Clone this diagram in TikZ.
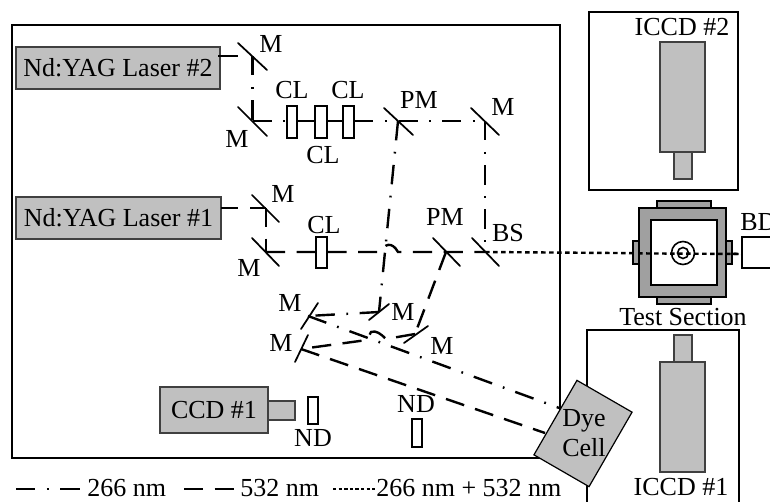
\documentclass[tikz,border=0pt]{standalone}
\usepackage{fontspec}
\setmainfont{Liberation Serif}
\usetikzlibrary{calc}
\definecolor{boxgray}{HTML}{C0C0C0}
\definecolor{cellgray}{HTML}{A0A0A0}
\tikzset{
  frame/.style={draw=black,line width=1.5pt},
  txt/.style={inner sep=0pt,font=\fontsize{19.5pt}{21pt}\selectfont,text height=12.9pt,text depth=0pt},
  graybox/.style 2 args={draw=black!75,line width=0.9pt,fill=boxgray,inner sep=0pt,
     minimum width=#1*0.75pt,minimum height=#2*0.75pt,font=\fontsize{19.5pt}{21pt}\selectfont},
  lens/.style 2 args={draw=black,line width=1.3pt,fill=white,inner sep=0pt,
     minimum width=#1*0.75pt,minimum height=#2*0.75pt},
  mirror/.style={line width=1.3pt,line cap=round},
  beamd/.style={line width=1.8pt,dash pattern=on 14.4pt off 8.6pt},
  beamdd/.style={line width=1.8pt,dash pattern=on 14.6pt off 8.6pt on 1.3pt off 8.6pt},
  beamdot/.style={line width=1.8pt,dash pattern=on 3.4pt off 2.6pt},
  tsbox/.style={draw=black,line width=1.2pt,inner sep=0pt},
}
\begin{document}
\begin{tikzpicture}[x=0.75pt,y=-0.75pt]
\useasboundingbox (0,0) rectangle (770,502);
% frames
\node[frame,fill=none,inner sep=0pt,minimum width=548*0.75pt,minimum height=433*0.75pt] (mainframe) at (286,241.5) {};
\node[frame,inner sep=0pt,minimum width=149*0.75pt,minimum height=178*0.75pt] (frametwo) at (663.5,101) {};
\node[frame,inner sep=0pt,minimum width=152*0.75pt,minimum height=190*0.75pt] (frameone) at (663,425) {};
% key points
\coordinate (mA) at (252.5,56);
\coordinate (mB) at (252.5,121);
\coordinate (pmA) at (398,121);
\coordinate (mC) at (485,121);
\coordinate (mD) at (266,208);
\coordinate (mE) at (266,252);
\coordinate (pmB) at (446,252);
\coordinate (bs) at (485,252);
\coordinate (mF) at (379,312);
\coordinate (mG) at (308,316);
\coordinate (mH) at (415,334);
\coordinate (mI) at (301,349);
\coordinate (cellA) at (562,409);
\coordinate (cellB) at (545,433);
\coordinate (bdin) at (745,254);
\coordinate (lasB) at (218,56);
\coordinate (lasBe) at (238,56);
\coordinate (lasA) at (221,208);
% laser boxes
\node[graybox={204}{42}] (laser2) at (118,68) {Nd:YAG Laser \#2};
\node[graybox={205}{42}] (laser1) at (118.5,218) {Nd:YAG Laser \#1};
% beams
\draw[line width=1.8pt] (lasB) -- (lasBe);
\draw[beamdd] (mA) -- (mB);
\draw[line width=1.8pt,dash pattern=on 14.3pt off 8.6pt on 1.3pt off 9pt on 14.3pt off 8.6pt on 12pt off 8.3pt on 14.3pt off 8.6pt on 1.3pt off 9pt on 14.3pt off 8.6pt on 1.3pt off 8.6pt on 14.3pt off 8.6pt on 1.3pt off 8.3pt]
   (mB) -- (pmA) -- (mC);
\draw[beamdd] (mC) -- (bs);
\draw[beamdd] (pmA) -- (mF);
\draw[beamdd] (mF) -- (mG);
\draw[beamdd] (mG) -- (cellA);
\draw[line width=1.8pt,dash pattern=on 13pt off 9pt] (lasA) -- (mD);
\draw[beamd] (mD) -- (mE);
\draw[beamd] (mE) -- (381,252) .. controls (384,244) and (392,241) .. (398,252) -- (pmB) -- (bs);
\draw[beamd] (pmB) -- (mH);
\draw[beamd] (mH) -- (386,339) .. controls (381,334) and (376,330) .. (371,332) -- (367,340) -- (mI);
\draw[beamd] (mI) -- (cellB);
\draw[beamdot] (bs) -- (bdin);
% mirrors
\draw[mirror] (238,43) -- (267,70);
\draw[mirror] (238,107) -- (267,136);
\draw[mirror] (384,108) -- (413,135);
\draw[mirror] (471,108) -- (499,135);
\draw[mirror] (252,195) -- (279,222);
\draw[mirror] (252,238) -- (279,266);
\draw[mirror] (433,238) -- (460,266);
\draw[mirror] (472,238) -- (499,266);
\draw[mirror] (369,320) -- (389,304);
\draw[mirror] (301,329) -- (318,303);
\draw[mirror] (295,362) -- (308,335);
\draw[mirror] (404,343) -- (428,326);
% lenses
\node[lens={10}{32}] (cl1) at (292,122) {};
\node[lens={12}{32}] (cl2) at (321,122) {};
\node[lens={11}{32}] (cl3) at (348.5,122) {};
\node[lens={11}{31}] (cl4) at (321.5,252.5) {};
\node[lens={10}{27}] (nd1) at (313,410.5) {};
\node[lens={10}{28}] (nd2) at (417,433) {};
% CCD
\node[graybox={27}{19}] (ccdlens) at (281.5,410.5) {};
\node[graybox={108}{46}] (ccd) at (214,410) {CCD \#1};
% ICCD 2
\node[graybox={18}{27}] (iccdtwol) at (683,165.5) {};
\node[graybox={45}{110}] (iccdtwo) at (682.5,97) {};
% ICCD 1
\node[graybox={18}{27}] (iccdonel) at (683,348.5) {};
\node[graybox={45}{110}] (iccdone) at (682.5,417) {};
% test section
\node[tsbox,fill=cellgray,minimum width=54*0.75pt,minimum height=7*0.75pt] (tabt) at (684,204.5) {};
\node[tsbox,fill=cellgray,minimum width=54*0.75pt,minimum height=7*0.75pt] (tabb) at (684,300.5) {};
\node[tsbox,fill=cellgray,minimum width=6*0.75pt,minimum height=23*0.75pt] (tabl) at (636,252.5) {};
\node[tsbox,fill=cellgray,minimum width=6*0.75pt,minimum height=23*0.75pt] (tabr) at (729,252.5) {};
\node[tsbox,fill=cellgray,minimum width=87*0.75pt,minimum height=89*0.75pt] (outer) at (682.5,252.5) {};
\node[tsbox,fill=white,minimum width=66*0.75pt,minimum height=65*0.75pt] (inner) at (684,252.5) {};
\node[circle,tsbox,minimum size=23*0.75pt] (ringA) at (683,253) {};
\node[circle,tsbox,minimum size=11*0.75pt] (ringB) at (683,253) {};
\draw[beamdot] (638,253.4) -- (bdin);
% BD
\node[tsbox,fill=white,minimum width=40*0.75pt,minimum height=31*0.75pt] (bd) at (762,252.5) {};
% dye cell
\node[draw=black,line width=0.9pt,fill=boxgray,inner sep=0pt,minimum width=63.6*0.75pt,minimum height=86*0.75pt,rotate=-30] (dye) at (583,433.5) {};
% labels
\node[txt] (t1) at (271,44) {M};
\node[txt] (t2) at (237,139) {M};
\node[txt] (t3) at (292,90) {CL};
\node[txt] (t4) at (348,90) {CL};
\node[txt] (t5) at (323,155) {CL};
\node[txt] (t6) at (419,100) {PM};
\node[txt] (t7) at (503,107) {M};
\node[txt] (t8) at (283,194) {M};
\node[txt] (t9) at (249,268) {M};
\node[txt] (t10) at (324,225) {CL};
\node[txt] (t11) at (445,217) {PM};
\node[txt] (t12) at (508,233) {BS};
\node[txt] (t13) at (290,303) {M};
\node[txt] (t14) at (403,312) {M};
\node[txt] (t15) at (281,343) {M};
\node[txt] (t16) at (442,346) {M};
\node[txt] (t17) at (313,438) {ND};
\node[txt] (t18) at (416,404) {ND};
\node[txt] (t19) at (683,317) {Test Section};
\node[txt,anchor=west] (t20) at (740,222) {BD};
\node[txt] (t21) at (682,27) {ICCD \#2};
\node[txt] (t22) at (681,487) {ICCD \#1};
\node[txt] (t23) at (584,418) {Dye};
\node[txt] (t24) at (584,448) {Cell};
% legend
\coordinate (lgaA) at (16,489);
\coordinate (lgaB) at (80,489);
\coordinate (lgbA) at (184,489);
\coordinate (lgbB) at (235,489);
\coordinate (lgcA) at (333,489);
\coordinate (lgcB) at (375,489);
\draw[beamdd] (lgaA) -- (lgaB);
\draw[beamd] (lgbA) -- (lgbB);
\draw[line width=1.2pt,dash pattern=on 2.6pt off 1.6pt] (lgcA) -- (lgcB);
\node[txt,anchor=west] (t25) at (87,488) {266 nm};
\node[txt,anchor=west] (t26) at (240,488) {532 nm};
\node[txt,anchor=west] (t27) at (376,488) {266 nm + 532 nm};
\end{tikzpicture}
\end{document}
